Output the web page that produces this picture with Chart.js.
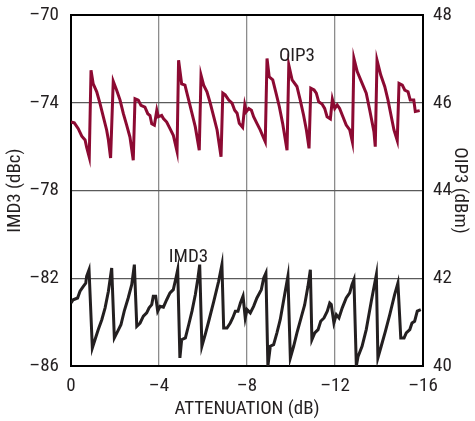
<!DOCTYPE html>
<html>
<head>
<meta charset="utf-8">
<script src="https://cdn.jsdelivr.net/npm/chart.js@4/dist/chart.umd.min.js"></script>
<style>
  html, body { margin: 0; padding: 0; background: #fff; }
  canvas { display: block; }
</style>
</head>
<body>
<canvas id="chart" width="475" height="421"></canvas>
<script>
// Attenuation (dB) and OIP3 (dBm)
const oip3Atten = [0, -0.15, -0.33, -0.49, -0.64, -0.71, -0.83, -0.91, -1.01, -1.17, -1.32, -1.47, -1.62, -1.70, -1.80,
    -1.92, -2.08, -2.23, -2.38, -2.53, -2.68, -2.83, -2.91, -3.06, -3.18, -3.36, -3.49, -3.59, -3.67, -3.79,
    -3.90, -3.97, -4.12, -4.20, -4.35, -4.50, -4.65, -4.82, -4.89, -5.03, -5.18, -5.35, -5.50, -5.65, -5.83,
    -5.91, -6.03, -6.18, -6.33, -6.49, -6.64, -6.82, -6.90, -7.01, -7.17, -7.32, -7.44, -7.55, -7.65, -7.80,
    -7.90, -7.97, -8.08, -8.20, -8.30, -8.45, -8.60, -8.76, -8.83, -8.91, -9.01, -9.17, -9.32, -9.47, -9.62,
    -9.82, -9.90, -10.05, -10.27, -10.42, -10.57, -10.70, -10.82, -10.90, -11.05, -11.15, -11.26, -11.41, -11.53,
    -11.64, -11.79, -11.88, -11.99, -12.10, -12.21, -12.36, -12.51, -12.67, -12.79, -12.86, -13.01, -13.20,
    -13.42, -13.58, -13.77, -13.83, -13.91, -14.08, -14.26, -14.41, -14.56, -14.68, -14.83, -14.91, -15.06,
    -15.17, -15.32, -15.42, -15.58, -15.65, -15.85];
const oip3Values = [45.56, 45.54, 45.41, 45.24, 45.15, 44.99, 44.76, 46.74, 46.43, 46.25, 45.98, 45.68, 45.38, 45.15, 44.74,
    46.49, 46.28, 46.06, 45.75, 45.49, 45.22, 44.69, 46.09, 46.06, 45.94, 45.90, 45.75, 45.71, 45.52, 45.49,
    45.83, 45.68, 45.71, 45.64, 45.56, 45.41, 45.26, 44.89, 46.97, 46.43, 46.40, 46.06, 45.76, 45.45, 44.92,
    46.63, 46.40, 46.25, 45.99, 45.68, 45.38, 44.77, 46.22, 46.18, 46.06, 45.99, 45.83, 45.76, 45.53, 45.44,
    45.95, 45.80, 45.87, 45.83, 45.68, 45.53, 45.38, 45.19, 45.11, 47.01, 46.59, 46.52, 46.22, 45.91, 45.53,
    44.92, 46.86, 46.52, 46.37, 46.06, 45.72, 45.38, 44.96, 46.33, 46.29, 46.22, 46.02, 45.97, 45.87,
    45.68, 45.63, 46.08, 45.87, 45.95, 45.87, 45.68, 45.49, 45.38, 45.11, 47.01, 46.71, 46.48,
    46.22, 45.83, 45.34, 45.00, 46.97, 46.63, 46.37, 46.06, 45.68, 45.38, 45.14, 46.44, 46.40,
    46.29, 46.25, 46.06, 46.06, 45.80, 45.82];

// Attenuation (dB) and IMD3 (dBc)
const imd3Atten = [0, -0.10, -0.30, -0.41, -0.56, -0.67, -0.71, -0.82, -0.97, -1.09, -1.24, -1.40, -1.55, -1.70, -1.85,
    -1.97, -2.12, -2.27, -2.42, -2.60, -2.76, -2.88, -2.99, -3.14, -3.29, -3.44, -3.55, -3.67, -3.74, -3.85,
    -3.94, -4.05, -4.20, -4.35, -4.50, -4.65, -4.77, -4.85, -4.95, -5.03, -5.20, -5.35, -5.50, -5.65, -5.77,
    -5.85, -5.95, -6.10, -6.26, -6.49, -6.71, -6.86, -6.94, -7.09, -7.24, -7.35, -7.47, -7.59, -7.70, -7.82,
    -7.92, -8.00, -8.15, -8.30, -8.45, -8.65, -8.76, -8.86, -8.95, -9.06, -9.21, -9.36, -9.51, -9.71, -9.86,
    -9.97, -10.12, -10.27, -10.47, -10.62, -10.77, -10.88, -10.95, -11.08, -11.23, -11.35, -11.50, -11.65,
    -11.76, -11.83, -11.95, -12.06, -12.18, -12.33, -12.51, -12.67, -12.77, -12.86, -12.97, -13.05, -13.23,
    -13.42, -13.65, -13.88, -13.95, -14.10, -14.29, -14.49, -14.71, -14.86, -14.99, -15.14, -15.24, -15.40,
    -15.50, -15.62, -15.74, -15.90];
const imd3Values = [-83.13, -82.98, -82.90, -82.59, -82.37, -82.22, -81.91, -81.61, -85.18, -84.80, -84.34, -83.89, -83.35, -82.59, -81.53,
    -84.72, -84.42, -84.12, -83.50, -82.90, -82.29, -81.38, -84.19, -84.04, -83.73, -83.58, -83.35, -83.20, -82.82, -82.82,
    -83.50, -83.28, -83.32, -82.98, -82.67, -82.52, -81.99, -81.61, -85.63, -84.80, -84.72, -84.12, -83.50, -82.75, -81.99,
    -81.38, -85.10, -84.57, -83.96, -83.05, -82.14, -81.38, -84.27, -84.27, -84.04, -83.81, -83.50, -83.50, -83.13, -82.82,
    -83.81, -83.43, -83.58, -83.28, -82.90, -82.52, -81.99, -81.76, -86.00, -85.10, -85.03, -84.49, -83.89, -82.75, -81.91,
    -85.63, -85.10, -84.49, -83.76, -83.22, -82.37, -81.61, -84.80, -84.49, -84.34, -83.96, -83.81, -83.50,
    -83.13, -83.20, -84.04, -83.66, -83.81, -83.35, -82.90, -82.67, -82.29, -82.06, -86.00, -85.56, -85.10,
    -84.34, -83.05, -81.84, -85.63, -85.10, -84.42, -83.66, -82.75, -82.22, -84.72, -84.72, -84.49, -84.34,
    -84.04, -83.96, -83.50, -83.43];

// Axis ranges and curve labels
const attenTicks = [0, -4, -8, -12, -16];
const imd3Ticks = [-86, -82, -78, -74, -70];
const oip3Ticks = [40, 42, 44, 46, 48];
const curveLabels = [
    { text: 'OIP3', x: -10.27, y: 47.05, axis: 'y1' },
    { text: 'IMD3', x: -5.34, y: -81.03, axis: 'y' }
];

const FONT = "'Roboto Condensed', 'Liberation Sans Narrow', 'DejaVu Sans Condensed', 'Arial Narrow', Arial, sans-serif";
const FSIZE = 19;
const TEXT = '#231f20';
const dash = v => (v === 0 ? '0' : '\u2013' + Math.abs(v));

// Text labels next to the curves
const curveLabelPlugin = {
    id: 'curveLabels',
    afterDatasetsDraw(chart) {
        const ctx = chart.ctx;
        ctx.save();
        ctx.font = FSIZE + 'px ' + FONT;
        ctx.fillStyle = TEXT;
        ctx.textAlign = 'center';
        ctx.textBaseline = 'middle';
        curveLabels.forEach(l => {
            const px = chart.scales.x.getPixelForValue(l.x);
            const py = chart.scales[l.axis].getPixelForValue(l.y);
            ctx.fillText(l.text, px, py);
        });
        ctx.restore();
    }
};

// Fixed axis boxes so the plot area sits where the reference has it
const fixBox = (w, h) => s => {
    if (w !== null) s.width = w;
    if (h !== null) s.height = h;
    s.paddingTop = 0;
    s.paddingBottom = 0;
    s.paddingLeft = 0;
    s.paddingRight = 0;
};

const oip3Data = oip3Atten.map((a, i) => ({ x: a, y: oip3Values[i] }));
const imd3Data = imd3Atten.map((a, i) => ({ x: a, y: imd3Values[i] }));

const canvas = document.getElementById('chart');
new Chart(canvas.getContext('2d'), {
    type: 'line',
    data: {
        datasets: [{
            label: 'OIP3',
            data: oip3Data,
            yAxisID: 'y1',
            borderColor: '#8c0a32',
            borderWidth: 3,
            pointRadius: 0,
            tension: 0,
            borderJoinStyle: 'miter'
        }, {
            label: 'IMD3',
            data: imd3Data,
            yAxisID: 'y',
            borderColor: '#231f20',
            borderWidth: 3,
            pointRadius: 0,
            tension: 0,
            borderJoinStyle: 'miter'
        }]
    },
    options: {
        responsive: false,
        animation: false,
        devicePixelRatio: 1,
        layout: { padding: { top: 15, left: 0, right: 0, bottom: 0 } },
        plugins: {
            legend: { display: false },
            tooltip: { enabled: false }
        },
        scales: {
            x: {
                type: 'linear',
                reverse: true,
                min: Math.min(...attenTicks),
                max: Math.max(...attenTicks),
                afterBuildTicks: s => { s.ticks = attenTicks.map(v => ({ value: v })); },
                afterFit: fixBox(null, 55),
                ticks: {
                    callback: dash,
                    color: TEXT,
                    padding: 9,
                    maxRotation: 0,
                    font: { family: FONT, size: FSIZE }
                },
                grid: {
                    drawTicks: false,
                    color: '#8c8c8c',
                    lineWidth: 1.3
                },
                border: { display: true, color: '#000', width: 2 },
                title: {
                    display: true,
                    text: 'ATTENUATION (dB)',
                    color: TEXT,
                    padding: { top: 0, bottom: 0 },
                    font: { family: FONT, size: FSIZE }
                }
            },
            y: {
                type: 'linear',
                position: 'left',
                min: Math.min(...imd3Ticks),
                max: Math.max(...imd3Ticks),
                afterBuildTicks: s => { s.ticks = imd3Ticks.map(v => ({ value: v })); },
                afterFit: fixBox(71, null),
                ticks: {
                    callback: dash,
                    color: TEXT,
                    padding: 12,
                    font: { family: FONT, size: FSIZE }
                },
                grid: {
                    drawTicks: false,
                    color: c => (c.tick && c.tick.value === -70 ? '#000' : '#5a5a5a'),
                    lineWidth: c => (c.tick && c.tick.value === -70 ? 2 : 1.3)
                },
                border: { display: true, color: '#000', width: 2 },
                title: {
                    display: true,
                    text: 'IMD3 (dBc)',
                    color: TEXT,
                    padding: { top: 4, bottom: 0 },
                    font: { family: FONT, size: FSIZE }
                }
            },
            y1: {
                type: 'linear',
                position: 'right',
                min: Math.min(...oip3Ticks),
                max: Math.max(...oip3Ticks),
                afterBuildTicks: s => { s.ticks = oip3Ticks.map(v => ({ value: v })); },
                afterFit: fixBox(52, null),
                ticks: {
                    color: TEXT,
                    padding: 10,
                    font: { family: FONT, size: FSIZE }
                },
                grid: { display: false, drawTicks: false },
                border: { display: true, color: '#000', width: 2 },
                title: {
                    display: true,
                    text: 'OIP3 (dBm)',
                    color: TEXT,
                    padding: { top: 4, bottom: 0 },
                    font: { family: FONT, size: FSIZE }
                }
            }
        }
    },
    plugins: [curveLabelPlugin]
});
</script>
</body>
</html>
